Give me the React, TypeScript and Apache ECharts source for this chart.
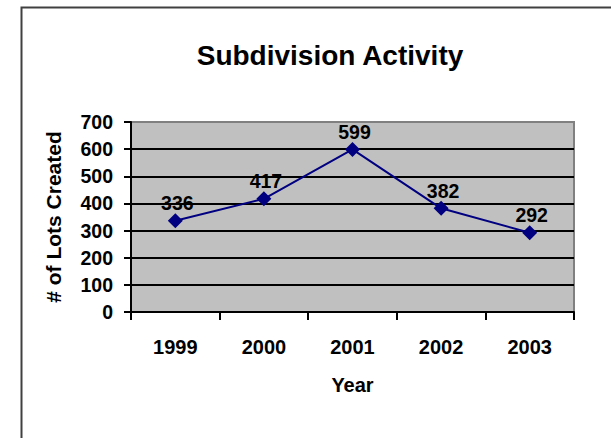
import React, { useEffect, useRef } from "react";
import * as echarts from "echarts";

const chartTitle = "Subdivision Activity";
const years = ["1999", "2000", "2001", "2002", "2003"];
const lotsCreated = [336, 417, 599, 382, 292];
const xAxisName = "Year";
const yAxisName = "# of Lots Created";
const yMin = 0;
const yMax = 700;
const yStep = 100;

const font = "Liberation Sans, Arial, sans-serif";

export default function App() {
  const ref = useRef<HTMLDivElement>(null);

  useEffect(() => {
    if (!ref.current) return;
    const chart = echarts.init(ref.current, undefined, { renderer: "svg" });
    chart.setOption({
      animation: false,
      backgroundColor: "#ffffff",
      title: {
        text: chartTitle,
        left: 325,
        top: 36,
        textAlign: "center",
        textStyle: {
          fontFamily: font,
          fontWeight: "bold",
          fontSize: 28,
          color: "#000000",
        },
      },
      graphic: [
        {
          type: "rect",
          z: -10,
          silent: true,
          shape: { x: 21.5, y: 7.5, width: 700, height: 600 },
          style: { fill: "#ffffff", stroke: "#404040", lineWidth: 2 },
        },
      ],
      grid: {
        left: 131,
        top: 122,
        right: 37,
        bottom: 126,
        show: true,
        backgroundColor: "#C0C0C0",
        borderColor: "#808080",
        borderWidth: 2,
      },
      xAxis: {
        type: "category",
        data: years,
        boundaryGap: true,
        name: xAxisName,
        nameLocation: "middle",
        nameGap: 63,
        nameTextStyle: {
          fontFamily: font,
          fontWeight: "bold",
          fontSize: 20,
          color: "#000000",
        },
        axisLine: { show: true, lineStyle: { color: "#000000", width: 2 } },
        axisTick: {
          show: true,
          alignWithLabel: false,
          length: 8,
          lineStyle: { color: "#000000", width: 2 },
        },
        axisLabel: {
          margin: 25,
          fontFamily: font,
          fontWeight: "bold",
          fontSize: 20,
          color: "#000000",
        },
        splitLine: { show: false },
      },
      yAxis: {
        type: "value",
        min: yMin,
        max: yMax,
        interval: yStep,
        name: yAxisName,
        nameLocation: "middle",
        nameGap: 67,
        nameRotate: 90,
        nameTextStyle: {
          fontFamily: font,
          fontWeight: "bold",
          fontSize: 21,
          color: "#000000",
        },
        axisLine: { show: true, lineStyle: { color: "#000000", width: 2 } },
        axisTick: {
          show: true,
          length: 7,
          lineStyle: { color: "#000000", width: 2 },
        },
        axisLabel: {
          margin: 18,
          fontFamily: font,
          fontWeight: "bold",
          fontSize: 19.5,
          color: "#000000",
        },
        splitLine: {
          show: true,
          showMinLine: false,
          showMaxLine: false,
          lineStyle: { color: "#000000", width: 2 },
        },
      },
      series: [
        {
          type: "line",
          data: lotsCreated,
          symbol: "diamond",
          symbolSize: 15,
          lineStyle: { color: "#000080", width: 2 },
          itemStyle: { color: "#000080" },
          label: {
            show: true,
            position: "top",
            distance: 0,
            offset: [2, 0],
            fontFamily: font,
            fontWeight: "bold",
            fontSize: 19.5,
            color: "#000000",
          },
        },
      ],
    });
    return () => chart.dispose();
  }, []);

  return (
    <div
      ref={ref}
      style={{ position: "fixed", left: 0, top: 0, width: 611, height: 438 }}
    />
  );
}
